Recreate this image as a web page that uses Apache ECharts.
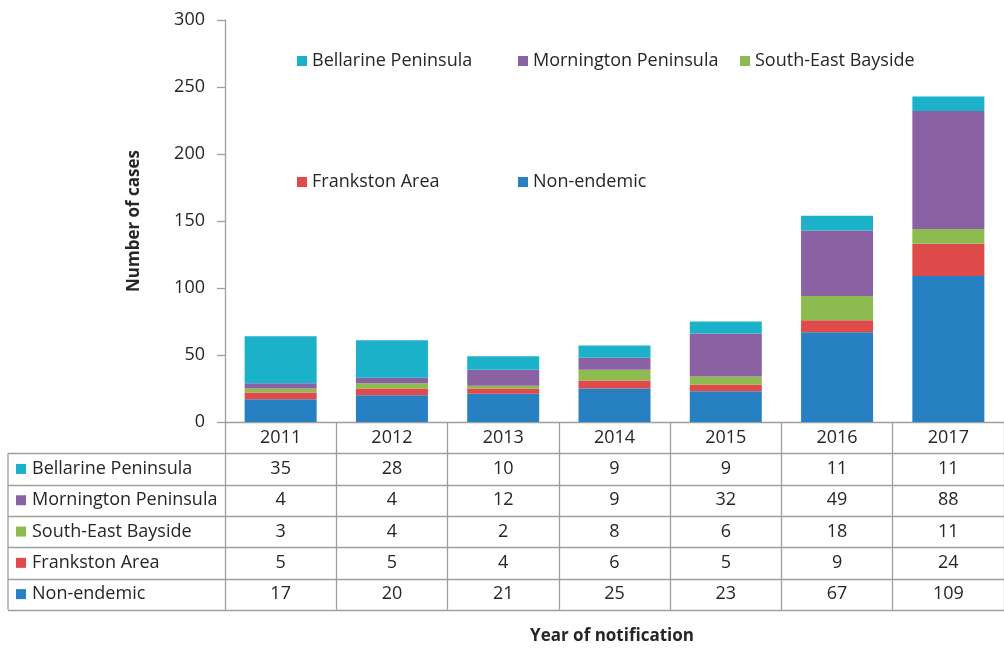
<!DOCTYPE html>
<html>
<head>
<meta charset="utf-8">
<script src="https://cdn.jsdelivr.net/npm/echarts@6/dist/echarts.min.js"></script>
<style>
  html, body { margin: 0; padding: 0; background: #fff; }
  #chart { width: 1004px; height: 648px; }
</style>
</head>
<body>
<div id="chart"></div>
<script>
// data
const years = ['2011', '2012', '2013', '2014', '2015', '2016', '2017'];
const bellarine = [35, 28, 10, 9, 9, 11, 11];
const mornington = [4, 4, 12, 9, 32, 49, 88];
const southEast = [3, 4, 2, 8, 6, 18, 11];
const frankston = [5, 5, 4, 6, 5, 9, 24];
const nonEndemic = [17, 20, 21, 25, 23, 67, 109];

const FONT = '"Open Sans", sans-serif';
const TXT = '#262626';
const LINE = '#9e9e9e';
const ROW_H = 31.3;
const FS = 18;

// table order = top to bottom, stacking order = bottom to top
const rows = [
    { name: 'Bellarine Peninsula', data: bellarine, color: '#1bb1c9' },
    { name: 'Mornington Peninsula', data: mornington, color: '#8a62a4' },
    { name: 'South-East Bayside', data: southEast, color: '#8dbb4f' },
    { name: 'Frankston Area', data: frankston, color: '#df4a4a' },
    { name: 'Non-endemic', data: nonEndemic, color: '#2680c2' }
];
const stackOrder = rows.slice().reverse();

// legend item spots (two rows inside the plot)
const legendSpots = {
    'Bellarine Peninsula': [297, 52],
    'Mornington Peninsula': [518, 52],
    'South-East Bayside': [740, 52],
    'Frankston Area': [297, 173],
    'Non-endemic': [518, 173]
};

const chart = echarts.init(document.getElementById('chart'));

chart.setOption({
    animation: false,
    textStyle: { fontFamily: FONT },
    grid: { left: 225, top: 20, width: 791, height: 402, containLabel: false },
    legend: rows.map(r => ({
        data: [r.name],
        left: legendSpots[r.name][0],
        top: legendSpots[r.name][1],
        padding: 0,
        icon: 'rect',
        itemWidth: 10,
        itemHeight: 10,
        selectedMode: false,
        textStyle: { fontFamily: FONT, fontSize: FS, color: TXT }
    })),
    xAxis: {
        type: 'category',
        data: years,
        axisLine: { lineStyle: { color: LINE, width: 1.3 } },
        axisTick: { show: true, length: ROW_H * 6, interval: 0, lineStyle: { color: LINE, width: 1.3 } },
        axisLabel: {
            interval: 0,
            margin: 0,
            fontFamily: FONT,
            fontSize: FS,
            color: TXT,
            lineHeight: ROW_H,
            verticalAlign: 'top',
            formatter: (v, i) => [v].concat(rows.map(r => r.data[i])).join('\n')
        }
    },
    yAxis: {
        type: 'value',
        min: 0,
        max: 300,
        interval: 50,
        name: 'Number of cases',
        nameLocation: 'middle',
        nameGap: 82,
        nameTextStyle: { fontFamily: FONT, fontSize: 17, fontWeight: 'bold', color: TXT },
        axisLine: { show: true, lineStyle: { color: LINE, width: 1.3 } },
        axisTick: { show: true, length: 8, lineStyle: { color: LINE, width: 1.3 } },
        axisLabel: { margin: 20, fontFamily: FONT, fontSize: 18, color: TXT },
        splitLine: { show: false }
    },
    series: stackOrder.map(r => ({
        name: r.name,
        type: 'bar',
        stack: 'cases',
        barWidth: 72,
        data: r.data,
        itemStyle: { color: r.color }
    }))
});

// the table frame and row headers, placed from the axis positions
const y0 = chart.convertToPixel({ yAxisIndex: 0 }, 0);
const xLeft = 8;
const xRight = chart.convertToPixel({ xAxisIndex: 0 }, years.length - 1) + 120;
const graphics = [];

for (let k = 1; k <= 6; k++) {
    const y = Math.round(y0 + ROW_H * k) + 0.5;
    graphics.push({
        type: 'line',
        shape: { x1: xLeft, y1: y, x2: xRight, y2: y },
        style: { stroke: LINE, lineWidth: 1.3 }
    });
}
graphics.push({
    type: 'line',
    shape: { x1: xLeft, y1: y0 + ROW_H, x2: xLeft, y2: y0 + ROW_H * 6 },
    style: { stroke: LINE, lineWidth: 1.3 }
});

rows.forEach((r, i) => {
    const cy = y0 + ROW_H * (i + 1.5);
    graphics.push({
        type: 'rect',
        shape: { x: 16, y: cy - 5, width: 10, height: 10 },
        style: { fill: r.color }
    });
    graphics.push({
        type: 'text',
        x: 32,
        y: cy,
        style: { text: r.name, fontFamily: FONT, fontSize: FS, fill: TXT, verticalAlign: 'middle' }
    });
});

graphics.push({
    type: 'text',
    x: 612,
    y: 636,
    style: {
        text: 'Year of notification', fontFamily: FONT, fontSize: 17, fontWeight: 'bold',
        fill: TXT, align: 'center', verticalAlign: 'middle'
    }
});

chart.setOption({ graphic: graphics });
</script>
</body>
</html>
